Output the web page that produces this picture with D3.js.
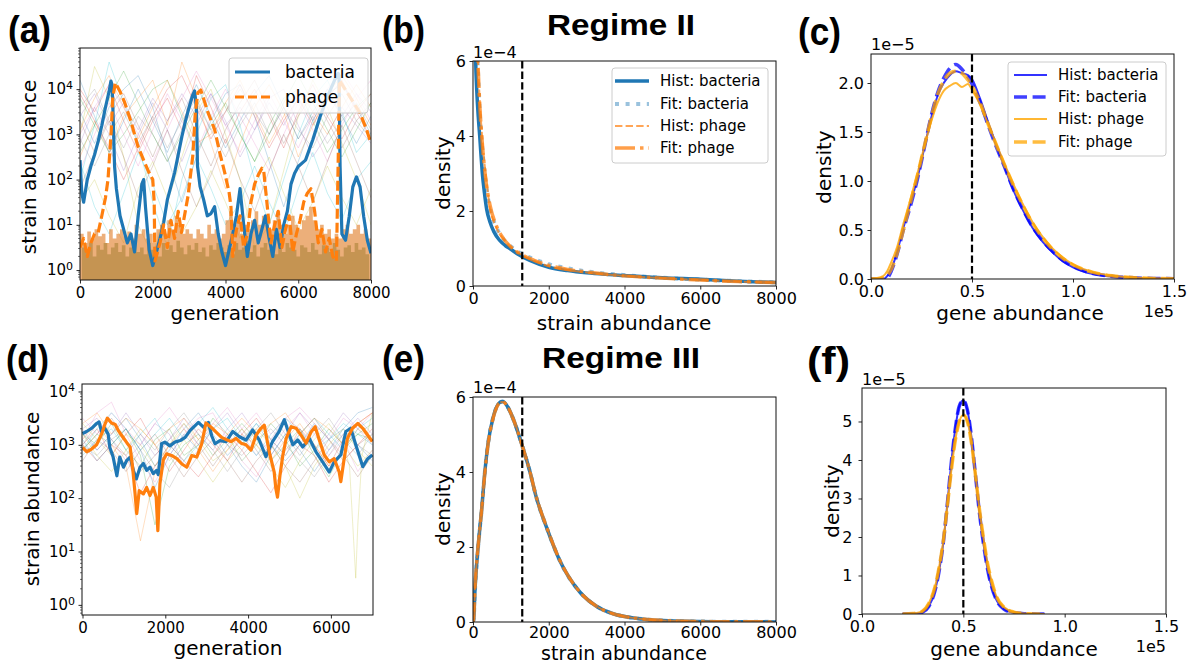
<!DOCTYPE html>
<html>
<head>
<meta charset="utf-8">
<script src="https://cdn.jsdelivr.net/npm/d3@7"></script>
<style>
  body { margin: 0; background: #fff; }
  svg { font-family: "DejaVu Sans", sans-serif; }
  text { fill: #000; }
</style>
</head>
<body>
<script>
// ---------- data (a): regime II time series, log10(strain abundance) ----------
const aBactGen = [0, 50, 100, 200, 300, 400, 500, 600, 700, 800, 850, 880, 900, 950, 1000, 1100, 1200, 1300, 1400, 1500, 1600, 1700, 1750, 1800, 1900, 2000, 2100, 2200, 2300, 2400, 2500, 2600, 2700, 2800, 2900, 3000, 3100, 3150, 3200, 3230, 3300, 3400, 3500, 3600, 3700, 3800, 3900, 4000, 4100, 4200, 4300, 4400, 4500, 4600, 4700, 4800, 4900, 5000, 5100, 5200, 5300, 5400, 5500, 5600, 5700, 5800, 5900, 6000, 6200, 6400, 6600, 6800, 7000, 7100, 7120, 7150, 7200, 7300, 7400, 7500, 7600, 7700, 7800, 7900, 8000]
const aBactLog = [2.43, 1.7, 1.5, 2.0, 2.3, 2.55, 2.85, 3.2, 3.6, 3.95, 4.18, 4.1, 3.7, 2.3, 1.8, 1.2, 0.9, 0.6, 0.8, 0.4, 1.2, 1.9, 2.0, 1.4, 0.45, 0.1, 0.4, 0.7, 1.05, 1.55, 1.85, 2.15, 2.55, 2.95, 3.3, 3.6, 3.87, 3.96, 3.6, 2.3, 1.85, 1.55, 1.2, 1.25, 1.4, 0.8, 0.4, 0.1, 0.45, 0.8, 1.2, 1.8, 1.0, 0.3, 0.8, 1.1, 0.6, 0.9, 1.2, 0.7, 0.3, 0.9, 0.5, 1.0, 1.3, 1.9, 2.14, 2.29, 2.43, 2.88, 3.39, 3.83, 4.2, 4.35, 4.3, 2.3, 0.8, 0.66, 1.18, 1.84, 2.06, 1.84, 1.18, 0.66, 0.37]
const aPhageGen = [0, 100, 200, 300, 400, 500, 600, 700, 770, 860, 900, 970, 1100, 1230, 1410, 1590, 1780, 1900, 2000, 2040, 2060, 2200, 2300, 2400, 2500, 2600, 2700, 2790, 2970, 3100, 3170, 3240, 3320, 3520, 3700, 3840, 3980, 4100, 4150, 4200, 4300, 4400, 4500, 4600, 4700, 4800, 4900, 5000, 5050, 5150, 5250, 5350, 5450, 5550, 5650, 5750, 5850, 5950, 6050, 6150, 6250, 6350, 6450, 6550, 6650, 6750, 6850, 6950, 7050, 7100, 7130, 7420, 7700, 7880, 8000]
const aPhageLog = [0.5, 0.7, 0.3, 0.6, 0.8, 0.83, 1.2, 1.6, 2.0, 3.1, 3.8, 4.14, 3.95, 3.7, 3.26, 2.74, 2.37, 2.15, 2.0, 1.5, 0.2, 0.6, 1.0, 0.5, 1.1, 0.7, 1.3, 0.83, 1.64, 2.52, 3.48, 3.92, 3.98, 3.48, 3.11, 2.6, 2.15, 1.71, 1.4, 0.3, 0.9, 1.2, 0.5, 0.8, 1.5, 1.9, 2.1, 2.25, 2.2, 1.4, 0.6, 1.0, 1.3, 0.5, 0.9, 1.2, 0.4, 0.8, 1.1, 1.5, 1.7, 1.8, 1.3, 0.6, 0.9, 0.4, 0.7, 0.3, 0.2, 2.5, 4.2, 3.83, 3.47, 3.1, 2.8]
// faint strains, every 400 generations
const aBgGen = [0, 400, 800, 1200, 1600, 2000, 2400, 2800, 3200, 3600, 4000, 4400, 4800, 5200, 5600, 6000, 6400, 6800, 7200, 7600, 8000]
const aBgLog = [
  [3.0, 4.5, 3.8, 2.5, 1.0, 0.3, 1.5, 2.5, 3.5, 4.0, 3.0, 2.0, 0.5, 1.0, 2.2, 3.4, 4.2, 3.6, 2.8, 2.0, 1.0],
  [2.0, 3.2, 4.6, 3.7, 2.8, 1.5, 0.5, 2.0, 3.0, 3.8, 4.1, 3.2, 2.0, 1.0, 2.0, 3.0, 3.8, 4.2, 3.5, 2.6, 3.0],
  [3.5, 2.8, 3.6, 4.0, 4.3, 3.6, 2.5, 1.5, 2.5, 3.3, 3.9, 4.1, 3.4, 2.4, 1.4, 2.4, 3.3, 3.9, 4.1, 3.6, 3.0],
  [2.5, 3.3, 2.6, 3.4, 3.8, 4.2, 3.2, 4.6, 3.8, 2.8, 1.8, 2.8, 3.6, 4.1, 3.5, 2.5, 3.2, 3.9, 4.3, 3.8, 3.2],
  [3.8, 3.2, 2.6, 3.0, 3.5, 4.0, 4.2, 3.4, 2.6, 3.2, 3.7, 3.0, 2.4, 3.2, 3.8, 4.0, 3.3, 2.6, 3.1, 3.6, 3.9],
  [4.0, 3.5, 4.1, 3.3, 2.6, 3.3, 3.8, 3.1, 4.3, 3.6, 2.8, 3.5, 4.0, 3.4, 2.7, 3.5, 4.1, 3.4, 2.9, 3.5, 3.9],
  [2.8, 3.6, 3.0, 2.2, 3.0, 3.7, 3.1, 2.4, 3.2, 3.9, 3.3, 2.5, 3.1, 3.8, 4.0, 3.2, 2.5, 3.0, 3.6, 3.2, 2.8],
  [3.3, 2.6, 3.4, 3.9, 3.2, 2.5, 3.3, 3.8, 3.0, 2.3, 3.1, 3.7, 4.2, 3.5, 2.8, 3.4, 3.9, 3.3, 2.7, 3.3, 3.7],
  [2.2, 3.0, 3.7, 3.0, 2.3, 3.1, 3.9, 3.3, 2.6, 3.4, 4.0, 3.4, 2.8, 2.2, 3.0, 3.7, 3.1, 2.4, 3.2, 3.8, 4.2],
  [3.6, 4.0, 3.3, 2.7, 3.4, 3.0, 2.4, 3.1, 3.7, 3.1, 3.5, 4.0, 3.5, 3.0, 3.6, 3.1, 2.7, 3.4, 3.9, 3.3, 2.9],
  [1.5, 2.0, 1.2, 0.6, 1.8, 2.4, 1.6, 0.8, 1.4, 2.2, 1.5, 0.7, 1.9, 2.5, 1.7, 0.9, 1.5, 2.3, 1.6, 1.0, 1.8],
  [2.4, 1.4, 0.8, 1.7, 2.6, 1.9, 1.0, 1.6, 2.5, 1.8, 1.0, 1.5, 2.3, 1.5, 0.8, 1.8, 2.6, 1.7, 1.1, 2.0, 2.4],
  [4.2, 3.4, 2.6, 3.3, 4.0, 3.3, 2.6, 3.4, 4.1, 3.4, 2.7, 3.3, 3.9, 4.3, 3.6, 2.9, 3.5, 4.0, 3.4, 2.8, 3.4],
  [3.1, 3.8, 4.3, 3.6, 2.9, 3.6, 4.2, 3.5, 2.8, 3.0, 3.7, 4.2, 3.5, 2.8, 3.4, 4.0, 3.5, 3.0, 3.6, 4.1, 3.6],
  [2.6, 3.2, 3.8, 4.4, 3.7, 3.0, 2.4, 3.0, 3.6, 4.2, 3.6, 3.0, 2.4, 3.0, 3.7, 4.3, 3.7, 3.1, 2.5, 3.1, 3.7],
  [3.9, 3.3, 2.7, 2.0, 2.7, 3.4, 4.0, 4.3, 3.6, 2.9, 3.5, 4.1, 3.4, 2.7, 3.3, 3.8, 3.2, 3.8, 4.2, 3.5, 2.9],
  [3.4, 3.9, 3.2, 3.7, 3.1, 3.8, 3.3, 3.9, 3.4, 3.9, 3.2, 3.6, 3.1, 3.7, 3.2, 3.8, 3.3, 3.9, 3.4, 3.9, 3.5],
  [1.8, 2.6, 3.3, 2.5, 1.6, 2.3, 3.1, 2.2, 1.4, 2.1, 2.9, 2.0, 1.3, 2.2, 3.0, 2.3, 1.5, 2.4, 3.2, 2.4, 1.6],
  [3.0, 3.6, 4.1, 3.6, 3.0, 2.4, 3.1, 3.8, 4.4, 3.8, 3.2, 2.6, 3.3, 3.9, 3.3, 2.7, 3.4, 4.0, 4.4, 3.9, 3.3],
  [2.9, 2.3, 3.0, 3.5, 2.8, 3.4, 2.7, 3.3, 3.8, 3.1, 2.5, 3.2, 3.7, 3.0, 3.6, 2.9, 3.4, 2.8, 3.3, 3.7, 3.1]
]
// crowded low-abundance floor, top of the band every 100 generations
const aFloorGen = d3.range(0, 8001, 100)
const aFloorLog = [0.8, 0.6, 0.85, 0.7, 0.9, 0.75, 0.8, 0.6, 0.9, 0.7, 0.8, 0.9, 0.75, 0.85, 0.7, 1.0, 0.8, 0.9, 0.7, 0.8,
  0.6, 0.9, 1.0, 0.8, 1.1, 0.9, 1.2, 1.0, 0.8, 0.9, 0.8, 0.7, 0.9, 0.8, 0.7, 1.0, 0.8, 0.9, 0.7, 0.8,
  1.1, 1.3, 1.0, 1.2, 0.8, 1.0, 0.9, 1.1, 1.3, 1.0, 1.2, 1.0, 0.9, 1.1, 1.3, 1.0, 0.8, 1.0, 1.2, 1.0,
  0.9, 1.1, 1.2, 1.4, 1.1, 0.9, 1.0, 0.8, 0.9, 0.7, 0.8, 0.7, 0.9, 1.0, 0.8, 0.9, 1.0, 0.8, 0.9, 0.7, 0.8]
const aFloor2Gen = d3.range(50, 8000, 100)
const aFloor2Log = [0.5, 0.4, 0.6, 0.3, 0.55, 0.45, 0.6, 0.35, 0.5, 0.6, 0.4, 0.55, 0.3, 0.5, 0.65, 0.4, 0.5, 0.35, 0.6, 0.45,
  0.5, 0.3, 0.6, 0.45, 0.55, 0.4, 0.65, 0.5, 0.35, 0.55, 0.45, 0.6, 0.4, 0.5, 0.3, 0.55, 0.45, 0.6, 0.5, 0.4,
  0.55, 0.35, 0.6, 0.45, 0.5, 0.65, 0.4, 0.55, 0.3, 0.5, 0.6, 0.45, 0.5, 0.35, 0.55, 0.4, 0.6, 0.5, 0.45, 0.3,
  0.55, 0.5, 0.4, 0.6, 0.45, 0.35, 0.55, 0.5, 0.4, 0.6, 0.45, 0.3, 0.5, 0.55, 0.4, 0.6, 0.45, 0.5, 0.35, 0.55]

// ---------- data (d): regime III time series ----------
const dBactGen = [0, 100, 220, 340, 400, 460, 540, 620, 660, 740, 830, 900, 990, 1070, 1150, 1230, 1300, 1390, 1470, 1550, 1630, 1710, 1790, 1830, 1910, 1990, 2110, 2230, 2360, 2480, 2600, 2720, 2800, 2920, 3040, 3120, 3200, 3320, 3470, 3630, 3790, 3950, 4110, 4270, 4430, 4590, 4750, 4875, 5000, 5080, 5200, 5320, 5480, 5640, 5800, 5960, 6080, 6240, 6360, 6480, 6600, 6770, 6890, 7000]
const dBactLog = [3.21, 3.25, 3.31, 3.40, 3.43, 3.25, 3.31, 3.2, 2.95, 2.77, 2.42, 2.77, 2.58, 2.71, 2.77, 2.52, 2.36, 2.58, 2.65, 2.52, 2.58, 2.46, 2.52, 2.44, 3.02, 3.05, 2.98, 3.05, 3.08, 3.14, 3.27, 3.36, 3.42, 3.33, 3.42, 3.17, 3.02, 3.08, 3.06, 3.25, 3.15, 3.09, 3.28, 3.09, 2.78, 3.06, 3.25, 3.47, 3.18, 3.0, 3.09, 2.96, 3.12, 2.87, 2.68, 2.49, 2.68, 2.81, 3.25, 3.31, 3.0, 2.59, 2.74, 2.81]
const dPhageGen = [0, 100, 220, 340, 460, 540, 600, 700, 790, 870, 950, 1070, 1150, 1210, 1270, 1310, 1370, 1470, 1550, 1630, 1710, 1780, 1820, 1870, 1950, 2030, 2150, 2280, 2400, 2520, 2640, 2760, 2880, 2980, 3120, 3240, 3360, 3470, 3590, 3710, 3830, 3950, 4070, 4190, 4310, 4390, 4510, 4630, 4670, 4710, 4770, 4840, 4920, 5040, 5160, 5280, 5400, 5520, 5620, 5720, 5840, 5960, 6080, 6200, 6240, 6320, 6400, 6520, 6650, 6770, 6890, 7000]
const dPhageLog = [2.95, 2.87, 2.92, 3.0, 3.2, 3.38, 3.5, 3.41, 3.38, 3.26, 3.17, 3.04, 2.96, 2.58, 2.08, 1.71, 2.14, 2.08, 2.2, 2.05, 2.2, 2.02, 1.39, 2.27, 2.71, 2.83, 2.8, 2.74, 2.64, 2.58, 2.8, 2.77, 3.02, 3.41, 3.32, 3.23, 3.14, 3.1, 3.06, 3.12, 3.03, 3.0, 2.9, 3.18, 3.31, 3.37, 2.87, 2.49, 2.18, 2.02, 2.43, 2.81, 3.12, 3.34, 3.31, 3.18, 3.03, 3.24, 3.34, 3.09, 2.81, 2.68, 2.74, 2.49, 2.31, 2.74, 3.12, 3.31, 3.4, 3.31, 3.18, 3.06]
const dBgGen = [0, 350, 700, 1050, 1400, 1750, 2100, 2450, 2800, 3150, 3500, 3850, 4200, 4550, 4900, 5250, 5600, 5950, 6300, 6650, 7000]
const dBgLog = [
  [3.2, 3.0, 3.4, 2.9, 2.6, 3.1, 3.3, 2.8, 3.0, 3.5, 3.2, 2.7, 3.0, 3.4, 3.1, 2.6, 2.9, 3.3, 3.0, 3.2, 3.1],
  [3.0, 3.3, 2.8, 3.2, 3.5, 3.0, 2.5, 2.9, 3.3, 3.0, 2.7, 3.2, 3.5, 3.1, 2.8, 3.3, 3.0, 2.6, 3.1, 3.4, 3.6],
  [3.3, 3.5, 3.1, 2.7, 3.0, 3.4, 3.2, 2.6, 2.9, 3.3, 3.6, 3.2, 2.8, 3.1, 3.5, 3.3, 2.9, 3.2, 3.6, 3.3, 3.0],
  [2.9, 3.2, 3.5, 3.1, 2.5, 2.8, 3.1, 3.4, 3.0, 2.6, 3.0, 3.3, 2.9, 2.5, 2.9, 3.2, 3.5, 3.1, 2.7, 3.0, 3.2],
  [3.1, 3.6, 3.8, 3.2, 2.7, 2.3, 2.8, 3.2, 3.5, 3.6, 3.1, 2.7, 2.4, 2.9, 3.3, 3.6, 3.2, 2.8, 3.1, 2.5, 2.9],
  [3.0, 2.8, 3.1, 3.3, 2.9, 2.5, 2.2, 2.7, 3.1, 3.3, 3.0, 2.8, 3.1, 3.3, 3.0, 2.7, 2.4, 2.8, 3.2, 3.0, 2.8],
  [3.4, 3.1, 2.8, 3.2, 3.0, 2.6, 3.0, 3.4, 3.1, 2.7, 2.9, 3.3, 3.0, 2.6, 2.2, 2.7, 3.1, 3.4, 3.0, 2.6, 2.9],
  [2.8, 3.1, 3.3, 2.9, 3.2, 3.5, 3.0, 2.7, 3.0, 3.3, 3.5, 3.1, 2.8, 3.2, 3.5, 3.2, 2.9, 3.1, 3.4, 3.2, 3.0],
  [3.2, 2.9, 3.2, 3.5, 3.1, 2.6, 2.9, 3.3, 3.6, 3.2, 2.8, 3.1, 3.4, 3.0, 2.7, 3.0, 3.4, 3.1, 3.3, 3.6, 3.7],
  [3.1, 3.4, 3.0, 2.6, 1.2, 2.5, 3.0, 3.3, 2.9, 2.5, 2.9, 3.2, 3.0, 2.7, 3.1, 3.4, 3.0, 2.6, 2.9, 3.3, 3.1],
  [2.9, 3.2, 3.0, 3.3, 2.8, 1.5, 2.6, 3.0, 3.2, 2.8, 3.1, 3.4, 3.1, 2.7, 3.0, 3.3, 2.8, 2.4, 2.9, 3.2, 3.4],
  [3.0, 2.7, 3.0, 2.8, 2.1, 2.6, 3.0, 2.7, 2.4, 2.8, 3.2, 2.9, 2.5, 2.1, 2.6, 3.0, 2.8, 2.3, 2.7, 3.0, 3.3],
  [3.3, 2.9, 3.2, 3.6, 3.2, 2.8, 3.1, 3.5, 3.2, 2.9, 3.3, 3.6, 3.2, 2.8, 3.2, 3.6, 3.3, 2.9, 3.2, 3.5, 3.2],
  [2.7, 3.1, 2.9, 2.5, 2.9, 3.2, 2.8, 2.4, 2.8, 3.1, 2.7, 2.3, 2.7, 3.0, 2.6, 2.3, 2.7, 3.1, 2.8, 2.4, 2.8],
  [3.5, 3.2, 3.6, 3.3, 3.0, 3.4, 3.7, 3.3, 3.0, 3.4, 3.7, 3.3, 3.6, 3.2, 3.5, 3.7, 3.4, 3.1, 3.5, 3.3, 3.6],
  [3.0, 3.4, 3.1, 2.8, 3.2, 2.9, 3.3, 3.6, 3.2, 2.9, 2.5, 2.9, 3.3, 3.6, 3.2, 2.8, 3.2, 3.5, 3.1, 2.8, 3.2],
  [3.2, 2.8, 2.5, 2.9, 3.3, 3.0, 2.7, 3.1, 2.7, 2.3, 2.7, 3.0, 3.3, 3.0, 2.6, 2.0, 2.6, 3.0, 3.3, 2.9, 2.6],
  [2.9, 3.3, 3.6, 3.3, 2.9, 3.2, 3.5, 3.1, 3.4, 3.7, 3.3, 3.0, 3.4, 3.1, 2.8, 3.2, 3.5, 3.2, 2.9, 3.3, 3.5],
  [3.1, 2.7, 3.0, 3.3, 2.9, 2.2, 2.8, 3.2, 2.9, 3.3, 3.0, 2.6, 2.3, 2.8, 3.2, 2.9, 2.5, 2.9, 3.3, 3.0, 2.7],
  [3.4, 3.6, 3.2, 3.5, 3.3, 3.0, 3.3, 3.5, 3.1, 3.4, 3.2, 3.5, 3.2, 3.4, 3.6, 3.2, 3.5, 3.3, 3.0, 3.4, 3.6]
]
const dDipGen = [6300, 6450, 6550, 6600, 6650, 6750, 7000]
const dDipLog = [3.0, 2.6, 1.2, 0.5, 1.5, 2.8, 3.6]

// ---------- data (b): strain abundance density, units of 1e-4 ----------
const bHistBactX = [40, 70, 100, 140, 177, 210, 247, 300, 360, 450, 550, 700, 850, 970, 1200, 1500, 2000, 2500, 3000, 3500, 4000, 5000, 6000, 7000, 8000]
const bHistBact = [7.8, 6.0, 5.2, 4.5, 4.0, 3.5, 3.0, 2.5, 2.05, 1.7, 1.45, 1.22, 1.08, 1.0, 0.84, 0.68, 0.5, 0.41, 0.35, 0.31, 0.28, 0.22, 0.18, 0.13, 0.09]
const bFitX = [60, 120, 180, 250, 330, 450, 600, 800, 1000, 1300, 1600, 2000, 2500, 3000, 4000, 5000, 6000, 7000, 8000]
const bFitBact = [7.4, 6.0, 4.6, 3.6, 2.8, 2.05, 1.6, 1.25, 1.05, 0.85, 0.72, 0.58, 0.47, 0.39, 0.29, 0.22, 0.17, 0.13, 0.1]
const bHistPhageX = [60, 130, 180, 240, 300, 360, 440, 550, 700, 850, 1050, 1300, 1600, 2000, 2500, 3000, 4000, 5000, 6000, 7000, 8000]
const bHistPhage = [7.5, 6.0, 4.9, 4.0, 3.3, 2.8, 2.1, 1.72, 1.4, 1.2, 1.0, 0.82, 0.68, 0.53, 0.43, 0.36, 0.27, 0.21, 0.16, 0.12, 0.09]
const bFitPhage = [7.6, 6.2, 4.8, 3.75, 2.9, 2.15, 1.65, 1.27, 1.04, 0.83, 0.69, 0.55, 0.44, 0.37, 0.27, 0.21, 0.16, 0.12, 0.09]
const meanStrain = 1300

// ---------- data (e): strain abundance density, units of 1e-4 ----------
const eX = [0, 20, 50, 90, 130, 180, 220, 308, 396, 530, 700, 790, 925, 1060, 1300, 1500, 1670, 1940, 2290, 2820, 3260, 3700, 4230, 5020, 6340, 8000]
const eBact = [0, 0.1, 0.8, 1.45, 1.95, 2.5, 2.9, 3.95, 4.75, 5.45, 5.85, 5.88, 5.72, 5.42, 4.7, 4.02, 3.33, 2.53, 1.64, 0.8, 0.42, 0.22, 0.11, 0.04, 0.01, 0.003]
const ePhage = [0, 0.12, 0.85, 1.5, 1.97, 2.5, 2.9, 3.93, 4.73, 5.43, 5.84, 5.87, 5.72, 5.42, 4.7, 4.02, 3.34, 2.54, 1.65, 0.8, 0.42, 0.22, 0.11, 0.04, 0.01, 0.003]

// ---------- data (c): gene abundance density, x in 1e5, y in 1e-5 ----------
const cX = [0, 0.03, 0.06, 0.08, 0.1, 0.13, 0.16, 0.2, 0.23, 0.26, 0.3, 0.33, 0.36, 0.39, 0.42, 0.45, 0.48, 0.5, 0.54, 0.58, 0.62, 0.66, 0.7, 0.75, 0.8, 0.85, 0.9, 0.95, 1.0, 1.1, 1.2, 1.3, 1.4, 1.5]
const cHistBact = [0, 0, 0, 0.03, 0.1, 0.28, 0.52, 0.8, 1.03, 1.3, 1.66, 1.87, 2.0, 2.08, 2.12, 2.1, 2.08, 2.04, 1.84, 1.6, 1.36, 1.15, 0.93, 0.71, 0.52, 0.38, 0.27, 0.18, 0.12, 0.05, 0.022, 0.01, 0.005, 0.002]
const cFitBact = [0, 0, 0, 0.01, 0.08, 0.26, 0.5, 0.78, 1.02, 1.3, 1.68, 1.9, 2.05, 2.15, 2.19, 2.14, 2.06, 1.99, 1.8, 1.57, 1.35, 1.15, 0.94, 0.72, 0.53, 0.39, 0.28, 0.19, 0.13, 0.055, 0.026, 0.012, 0.006, 0.003]
const cHistPhage = [0.005, 0.01, 0.03, 0.08, 0.17, 0.33, 0.56, 0.85, 1.08, 1.32, 1.62, 1.8, 1.92, 1.97, 2.0, 1.96, 1.99, 1.93, 1.78, 1.58, 1.38, 1.18, 0.99, 0.77, 0.58, 0.43, 0.31, 0.22, 0.15, 0.07, 0.033, 0.015, 0.007, 0.003]
const cFitPhage = [0, 0, 0.01, 0.04, 0.1, 0.27, 0.5, 0.82, 1.06, 1.32, 1.66, 1.88, 2.02, 2.1, 2.12, 2.1, 2.03, 1.97, 1.8, 1.58, 1.37, 1.17, 0.98, 0.76, 0.57, 0.42, 0.3, 0.21, 0.145, 0.067, 0.031, 0.014, 0.006, 0.003]
const meanGene = 0.5

// ---------- data (f): gene abundance density, x in 1e5, y in 1e-5 ----------
const fX = [0.2, 0.25, 0.28, 0.3, 0.33, 0.36, 0.38, 0.4, 0.42, 0.44, 0.46, 0.48, 0.5, 0.52, 0.54, 0.56, 0.58, 0.6, 0.62, 0.64, 0.66, 0.7, 0.75, 0.8, 0.9]
const fBact = [0, 0.005, 0.02, 0.05, 0.2, 0.6, 1.1, 1.8, 2.8, 3.9, 4.8, 5.4, 5.55, 5.3, 4.6, 3.6, 2.6, 1.8, 1.15, 0.7, 0.4, 0.13, 0.03, 0.008, 0.001]
const fPhage = [0.002, 0.01, 0.04, 0.08, 0.28, 0.7, 1.2, 1.85, 2.75, 3.7, 4.5, 5.0, 5.17, 5.0, 4.45, 3.6, 2.7, 1.95, 1.3, 0.85, 0.5, 0.18, 0.05, 0.012, 0.002]

const tab10 = ['#1f77b4', '#ff7f0e', '#2ca02c', '#d62728', '#9467bd', '#8c564b', '#e377c2', '#7f7f7f', '#bcbd22', '#17becf']

// ---------- layout ----------
const svg = d3.select('body').append('svg').attr('width', 1191).attr('height', 665)

const boxA = {x0: 80, x1: 371, y0: 48, y1: 280}
const boxB = {x0: 473, x1: 776, y0: 61, y1: 286}
const boxC = {x0: 871, x1: 1174, y0: 54, y1: 279}
const boxD = {x0: 82, x1: 373, y0: 384, y1: 615}
const boxE = {x0: 473, x1: 776, y0: 397, y1: 622}
const boxF = {x0: 862, x1: 1166, y0: 388, y1: 614}

function clipLayer(id, b) {
  svg.append('clipPath').attr('id', id).append('rect')
    .attr('x', b.x0).attr('y', b.y0).attr('width', b.x1 - b.x0).attr('height', b.y1 - b.y0)
  return svg.append('g').attr('clip-path', `url(#${id})`)
}

function frame(b) {
  svg.append('rect').attr('x', b.x0).attr('y', b.y0).attr('width', b.x1 - b.x0).attr('height', b.y1 - b.y0)
    .attr('fill', 'none').attr('stroke', '#111').attr('stroke-width', 1)
}

function line(layer, xs, ys, fx, fy, s) {
  const pts = xs.map((v, i) => [v, ys[i]])
  layer.append('path').datum(pts)
    .attr('d', d3.line().x(d => fx(d[0])).y(d => fy(d[1])).curve(s.curve || d3.curveLinear))
    .attr('fill', 'none').attr('stroke', s.color).attr('stroke-width', s.width)
    .attr('stroke-opacity', s.opacity == null ? 1 : s.opacity)
    .attr('stroke-dasharray', s.dash || null)
    .attr('stroke-linejoin', 'round').attr('stroke-linecap', 'butt')
}

function bottomAxis(b, x, ticks, fmt, fs, pad = 3.5) {
  const ax = svg.append('g').attr('transform', `translate(0,${b.y1})`)
    .call(d3.axisBottom(x).tickValues(ticks).tickFormat(fmt).tickSize(3.5).tickPadding(pad))
  ax.attr('font-family', null).attr('font-size', fs)
  ax.select('.domain').remove()
  ax.selectAll('line').attr('stroke', '#111').attr('stroke-width', 0.9)
  ax.selectAll('text').attr('fill', '#000')
}

function leftAxis(b, y, ticks, fmt, fs, pad = 3.5) {
  const ax = svg.append('g').attr('transform', `translate(${b.x0},0)`)
    .call(d3.axisLeft(y).tickValues(ticks).tickFormat(fmt).tickSize(3.5).tickPadding(pad))
  ax.attr('font-family', null).attr('font-size', fs)
  ax.select('.domain').remove()
  ax.selectAll('line').attr('stroke', '#111').attr('stroke-width', 0.9)
  ax.selectAll('text').attr('fill', '#000')
  return ax
}

function logAxis(b, y, lo, hi) {
  const ax = leftAxis(b, y, d3.range(0, 5).map(e => 10 ** e), () => '', 15)
  ax.selectAll('.tick text').each(function (d) {
    const t = d3.select(this)
    t.append('tspan').text('10')
    t.append('tspan').attr('dy', '-0.5em').attr('font-size', 11).text(Math.round(Math.log10(d)))
  })
  // minor ticks
  const minors = []
  for (let e = -1; e <= 4; e++) for (let k = 2; k <= 9; k++) {
    const v = k * 10 ** e
    if (v > lo && v < hi) minors.push(v)
  }
  svg.append('g').selectAll('line').data(minors).join('line')
    .attr('x1', b.x0 - 2).attr('x2', b.x0).attr('y1', d => y(d)).attr('y2', d => y(d))
    .attr('stroke', '#111').attr('stroke-width', 0.6)
}

function ylabel(text, cx, cy) {
  svg.append('text').attr('transform', `translate(${cx},${cy}) rotate(-90)`)
    .attr('text-anchor', 'middle').attr('dy', '0.35em').attr('font-size', 20).text(text)
}
function xlabel(text, cx, by, fs = 20) {
  svg.append('text').attr('x', cx).attr('y', by).attr('text-anchor', 'middle').attr('font-size', fs).text(text)
}
function panelTag(text, x, y) {
  svg.append('text').attr('x', x).attr('y', y).attr('font-family', 'Liberation Sans, Arial, sans-serif')
    .attr('font-weight', 'bold').attr('font-size', 38).attr('textLength', 43).attr('lengthAdjust', 'spacingAndGlyphs').text(text)
}
function title(text, cx, by, w) {
  svg.append('text').attr('x', cx - w / 2).attr('y', by).attr('font-family', 'Liberation Sans, Arial, sans-serif')
    .attr('font-weight', 'bold').attr('font-size', 30).attr('textLength', w).attr('lengthAdjust', 'spacingAndGlyphs').text(text)
}
function offsetText(text, x, y, anchor) {
  svg.append('text').attr('x', x).attr('y', y).attr('text-anchor', anchor).attr('font-size', 16).text(text)
}
function vdash(layer, b, xv) {
  layer.append('line').attr('x1', xv).attr('x2', xv).attr('y1', b.y0).attr('y2', b.y1)
    .attr('stroke', '#000').attr('stroke-width', 2.2).attr('stroke-dasharray', '7.4,3.2')
}
function legend(L, rows) {
  const g = svg.append('g')
  g.append('rect').attr('x', L.x).attr('y', L.y).attr('width', L.w).attr('height', L.h).attr('rx', 3)
    .attr('fill', '#fff').attr('fill-opacity', 0.8).attr('stroke', '#ccc').attr('stroke-width', 1)
  rows.forEach((r, i) => {
    const yy = L.rowY[i]
    g.append('line').attr('x1', L.sx0).attr('x2', L.sx1).attr('y1', yy).attr('y2', yy)
      .attr('stroke', r.color).attr('stroke-width', r.width).attr('stroke-opacity', r.opacity == null ? 1 : r.opacity)
      .attr('stroke-dasharray', r.dash || null)
    g.append('text').attr('x', L.tx).attr('y', yy).attr('dy', '0.36em').attr('font-size', L.fs).text(r.label)
  })
}

// ---------- panel (a) ----------
{
  const x = d3.scaleLinear().domain([0, 8000]).range([boxA.x0, boxA.x1])
  const y = d3.scaleLog().domain([10 ** -0.22, 10 ** 4.91]).range([boxA.y1, boxA.y0])
  const fy = v => y(10 ** v)
  const L = clipLayer('clipA', boxA)
  aBgLog.forEach((s, i) => line(L, aBgGen, s, x, fy, {color: tab10[(i + 8) % 10], width: 1, opacity: 0.25}))
  const area = (gens, vals) => d3.area().curve(d3.curveStepAfter)
    .x(d => x(d[0])).y0(boxA.y1).y1(d => fy(d[1]))(gens.map((g, i) => [g, vals[i]]))
  L.append('path').attr('d', area(aFloor2Gen, aFloor2Log)).attr('fill', '#5f8f5a').attr('fill-opacity', 0.6)
  L.append('path').attr('d', area(aFloorGen, aFloorLog)).attr('fill', '#e07a22').attr('fill-opacity', 0.6)
  line(L, aBactGen, aBactLog, x, fy, {color: '#1f77b4', width: 3.2})
  line(L, aPhageGen, aPhageLog, x, fy, {color: '#ff7f0e', width: 3.2, dash: '10,4'})
  frame(boxA)
  bottomAxis(boxA, x, [0, 2000, 4000, 6000, 8000], d3.format('d'), 15)
  logAxis(boxA, y, 10 ** -0.22, 10 ** 4.91)
  ylabel('strain abundance', 29, 167)
  xlabel('generation', 225, 320)
  legend({x: 229, y: 58, w: 139, h: 55, rowY: [72, 97], sx0: 235, sx1: 270, tx: 285, fs: 17}, [
    {label: 'bacteria', color: '#1f77b4', width: 3},
    {label: 'phage', color: '#ff7f0e', width: 3, dash: '9,4'}
  ])
  panelTag('(a)', 8, 43)
}

// ---------- panel (b) ----------
{
  const x = d3.scaleLinear().domain([0, 8000]).range([boxB.x0, boxB.x1])
  const y = d3.scaleLinear().domain([0, 6]).range([boxB.y1, boxB.y0])
  const L = clipLayer('clipB', boxB)
  const cur = d3.curveMonotoneX
  line(L, bHistBactX, bHistBact, x, y, {color: '#1f77b4', width: 3.5, curve: cur})
  line(L, bFitX, bFitBact, x, y, {color: '#1f77b4', width: 4, opacity: 0.45, dash: '4,6.6', curve: cur})
  line(L, bHistPhageX, bHistPhage, x, y, {color: '#ff7f0e', width: 2, opacity: 0.7, dash: '7.4,3.2', curve: cur})
  line(L, bFitX, bFitPhage, x, y, {color: '#ff7f0e', width: 3.5, opacity: 0.75, dash: '20,5,3.5,5', curve: cur})
  vdash(L, boxB, x(meanStrain))
  frame(boxB)
  bottomAxis(boxB, x, [0, 2000, 4000, 6000, 8000], d3.format('d'), 16)
  leftAxis(boxB, y, [0, 2, 4, 6], d3.format('d'), 16)
  offsetText('1e\u22124', boxB.x0, 58, 'start')
  ylabel('density', 443, 173)
  xlabel('strain abundance', 624, 330)
  legend({x: 612, y: 68, w: 156, h: 95, rowY: [81, 104, 126, 148], sx0: 615, sx1: 649, tx: 660, fs: 15}, [
    {label: 'Hist: bacteria', color: '#1f77b4', width: 3.5},
    {label: 'Fit: bacteria', color: '#1f77b4', width: 4, opacity: 0.45, dash: '4,6.6'},
    {label: 'Hist: phage', color: '#ff7f0e', width: 2, opacity: 0.7, dash: '7.4,3.2'},
    {label: 'Fit: phage', color: '#ff7f0e', width: 3.5, opacity: 0.75, dash: '20,5,3.5,5'}
  ])
  panelTag('(b)', 382, 43)
  title('Regime II', 621, 35, 148)
}

// ---------- panel (c) ----------
{
  const x = d3.scaleLinear().domain([0, 1.5]).range([boxC.x0, boxC.x1])
  const y = d3.scaleLinear().domain([0, 2.296]).range([boxC.y1, boxC.y0])
  const L = clipLayer('clipC', boxC)
  const cur = d3.curveMonotoneX
  line(L, cX, cHistBact, x, y, {color: '#0000ff', width: 2, opacity: 0.8, curve: cur})
  line(L, cX, cFitBact, x, y, {color: '#0000ff', width: 3.5, opacity: 0.75, dash: '13,5.6', curve: cur})
  line(L, cX, cHistPhage, x, y, {color: '#ffa500', width: 2, opacity: 0.8, curve: cur})
  line(L, cX, cFitPhage, x, y, {color: '#ffa500', width: 3.5, opacity: 0.75, dash: '13,5.6', curve: cur})
  vdash(L, boxC, x(meanGene))
  frame(boxC)
  bottomAxis(boxC, x, [0, 0.5, 1.0, 1.5], d3.format('.1f'), 16)
  leftAxis(boxC, y, [0, 0.5, 1.0, 1.5, 2.0], d3.format('.1f'), 16)
  offsetText('1e\u22125', boxC.x0, 50, 'start')
  offsetText('1e5', boxC.x1, 317, 'end')
  ylabel('density', 824, 167)
  xlabel('gene abundance', 1020, 320)
  legend({x: 1008, y: 62, w: 158, h: 94, rowY: [75, 97, 119, 142], sx0: 1014, sx1: 1047, tx: 1058, fs: 15}, [
    {label: 'Hist: bacteria', color: '#0000ff', width: 2, opacity: 0.8},
    {label: 'Fit: bacteria', color: '#0000ff', width: 3.5, opacity: 0.75, dash: '13,5.6'},
    {label: 'Hist: phage', color: '#ffa500', width: 2, opacity: 0.8},
    {label: 'Fit: phage', color: '#ffa500', width: 3.5, opacity: 0.75, dash: '13,5.6'}
  ])
  panelTag('(c)', 798, 45)
}

// ---------- panel (d) ----------
{
  const x = d3.scaleLinear().domain([0, 7000]).range([boxD.x0 + 0.5, boxD.x1 - 0.7])
  const y = d3.scaleLog().domain([10 ** -0.19, 10 ** 4.14]).range([boxD.y1, boxD.y0])
  const fy = v => y(10 ** v)
  const L = clipLayer('clipD', boxD)
  dBgLog.forEach((s, i) => line(L, dBgGen, s, x, fy, {color: tab10[(i + 2) % 10], width: 1, opacity: 0.25}))
  line(L, dDipGen, dDipLog, x, fy, {color: '#bcbd22', width: 1, opacity: 0.25})
  line(L, dBactGen, dBactLog, x, fy, {color: '#1f77b4', width: 3.2})
  line(L, dPhageGen, dPhageLog, x, fy, {color: '#ff7f0e', width: 3.2})
  frame(boxD)
  bottomAxis(boxD, x, [0, 2000, 4000, 6000], d3.format('d'), 15)
  logAxis(boxD, y, 10 ** -0.19, 10 ** 4.14)
  ylabel('strain abundance', 32, 499)
  xlabel('generation', 228, 655)
  panelTag('(d)', 6, 372)
}

// ---------- panel (e) ----------
{
  const x = d3.scaleLinear().domain([0, 8000]).range([boxE.x0, boxE.x1])
  const y = d3.scaleLinear().domain([0, 6]).range([boxE.y1, boxE.y0])
  const L = clipLayer('clipE', boxE)
  const cur = d3.curveMonotoneX
  line(L, eX, eBact, x, y, {color: '#1f77b4', width: 3.5, curve: cur})
  line(L, eX, eBact, x, y, {color: '#1f77b4', width: 4, opacity: 0.45, dash: '4,6.6', curve: cur})
  line(L, eX, ePhage, x, y, {color: '#ff7f0e', width: 2, opacity: 0.7, dash: '7.4,3.2', curve: cur})
  line(L, eX, ePhage, x, y, {color: '#ff7f0e', width: 3.5, opacity: 0.75, dash: '20,5,3.5,5', curve: cur})
  vdash(L, boxE, x(meanStrain))
  frame(boxE)
  bottomAxis(boxE, x, [0, 2000, 4000, 6000, 8000], d3.format('d'), 16, 1.5)
  leftAxis(boxE, y, [0, 2, 4, 6], d3.format('d'), 16)
  offsetText('1e\u22124', boxE.x0, 393, 'start')
  ylabel('density', 443, 509)
  xlabel('strain abundance', 624, 660, 19)
  panelTag('(e)', 382, 372)
  title('Regime III', 621, 368, 158)
}

// ---------- panel (f) ----------
{
  const x = d3.scaleLinear().domain([0, 1.5]).range([boxF.x0, boxF.x1])
  const y = d3.scaleLinear().domain([0, 5.87]).range([boxF.y1, boxF.y0])
  const L = clipLayer('clipF', boxF)
  const cur = d3.curveMonotoneX
  line(L, fX, fBact, x, y, {color: '#0000ff', width: 2, opacity: 0.8, curve: cur})
  line(L, fX, fBact, x, y, {color: '#0000ff', width: 3.5, opacity: 0.75, dash: '13,5.6', curve: cur})
  line(L, fX, fPhage, x, y, {color: '#ffa500', width: 2, opacity: 0.8, curve: cur})
  line(L, fX, fPhage, x, y, {color: '#ffa500', width: 3.5, opacity: 0.75, dash: '13,5.6', curve: cur})
  vdash(L, boxF, x(meanGene))
  frame(boxF)
  bottomAxis(boxF, x, [0, 0.5, 1.0, 1.5], d3.format('.1f'), 16)
  leftAxis(boxF, y, [0, 1, 2, 3, 4, 5], d3.format('d'), 16, 6)
  offsetText('1e\u22125', boxF.x0, 385, 'start')
  offsetText('1e5', boxF.x1, 652, 'end')
  ylabel('density', 832, 501)
  xlabel('gene abundance', 1014, 656)
  panelTag('(f)', 807, 374)
}
</script>
</body>
</html>
